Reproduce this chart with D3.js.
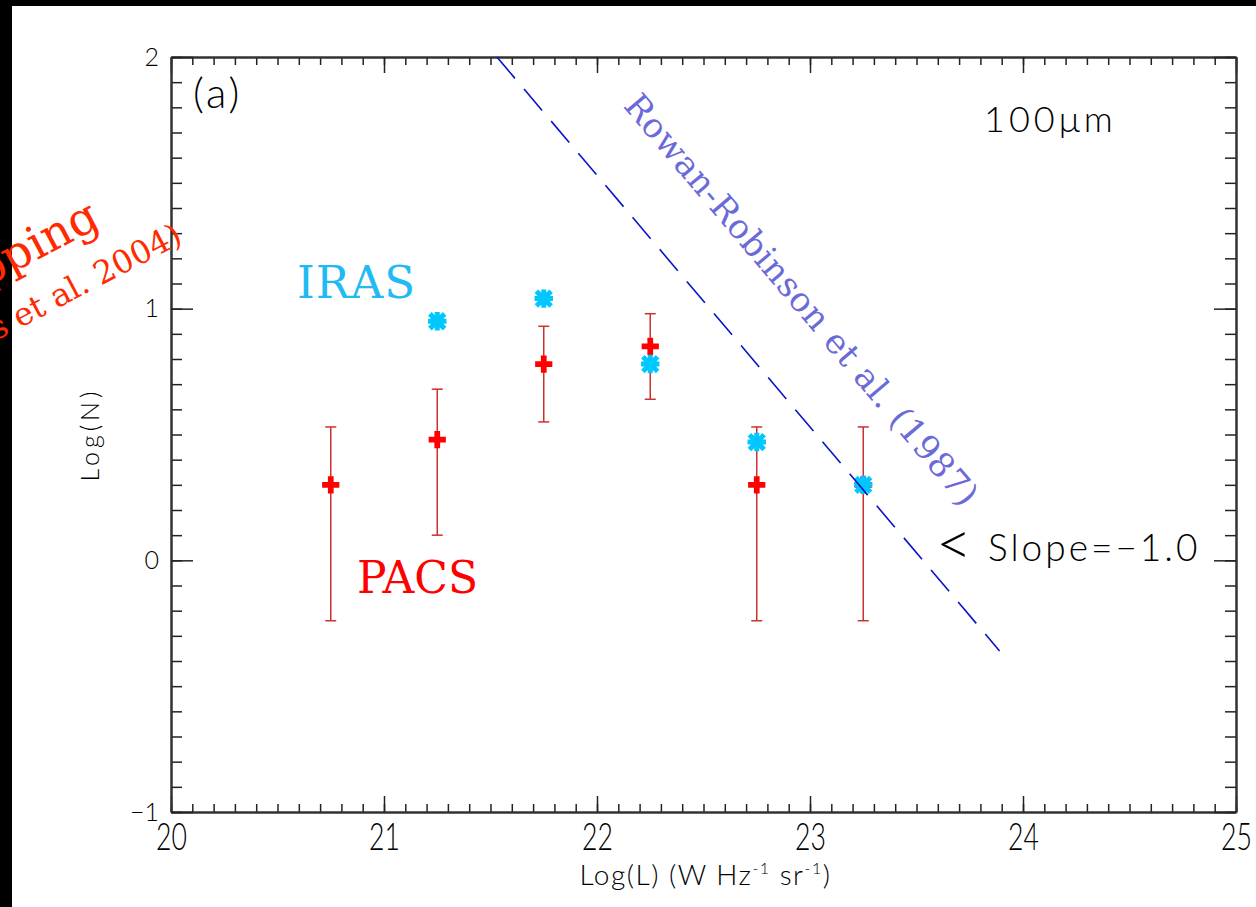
<!DOCTYPE html>
<html>
<head>
<meta charset="utf-8">
<script src="https://cdn.jsdelivr.net/npm/d3@7"></script>
<style>
  html, body { margin: 0; padding: 0; background: #fff; }
  svg { display: block; }
  .thin { font-family: Lato, 'DejaVu Sans', sans-serif; font-weight: 300; fill: #000; }
  .slab { font-family: 'DejaVu Serif', serif; }
</style>
</head>
<body>
<div id="chart"></div>
<script>
// luminosity bins, log(L) in W Hz^-1 sr^-1
const logLBins = [20.75, 21.25, 21.75, 22.25, 22.75, 23.25]
// PACS counts with error bar ends
const pacsLogN = [0.30, 0.48, 0.78, 0.85, 0.30, 0.30]
const pacsHi = [0.53, 0.68, 0.93, 0.98, 0.53, 0.53]
const pacsLo = [-0.24, 0.10, 0.55, 0.64, -0.24, -0.24]
// IRAS counts
const irasLogL = [21.25, 21.75, 22.25, 22.75, 23.25]
const irasLogN = [0.95, 1.04, 0.78, 0.47, 0.30]
// Rowan-Robinson et al. (1987) slope -1 line
const rrLogL = [21.53, 23.89]
const rrLogN = [2.0, -0.36]

const xTicks = [20, 21, 22, 23, 24, 25]
const yTicks = [-1, 0, 1, 2]

const width = 1256
const height = 907
const plot = { left: 171, right: 1236, top: 57, bottom: 812 }

const x = d3.scaleLinear().domain([20, 25]).range([plot.left, plot.right])
const y = d3.scaleLinear().domain([-1, 2]).range([plot.bottom, plot.top])

const svg = d3
  .select('#chart')
  .append('svg')
  .attr('width', width)
  .attr('height', height)

// black strips round the scanned figure
svg.append('rect').attr('x', 0).attr('y', 0).attr('width', width).attr('height', 6).attr('fill', '#000')
svg.append('rect').attr('x', 0).attr('y', 0).attr('width', 12).attr('height', height).attr('fill', '#000')

function styleAxis(g) {
  g.select('.domain').attr('stroke', '#333').attr('stroke-width', 2)
  g.selectAll('.tick line').attr('stroke', '#222').attr('stroke-width', 1.5)
}

// bottom
svg.append('g')
  .attr('transform', `translate(0,${plot.bottom})`)
  .call(d3.axisBottom(x).ticks(50).tickSize(-8).tickSizeOuter(0).tickFormat(''))
  .call(styleAxis)
const xAxis = svg.append('g')
  .attr('transform', `translate(0,${plot.bottom})`)
  .call(d3.axisBottom(x).tickValues(xTicks).tickSize(-16).tickSizeOuter(0).tickPadding(12).tickFormat(d3.format('d')))
  .call(styleAxis)
xAxis.selectAll('text')
  .attr('class', 'thin')
  .attr('font-size', 37)
  .attr('transform', 'scale(0.72,1)')

// top
svg.append('g')
  .attr('transform', `translate(0,${plot.top})`)
  .call(d3.axisTop(x).ticks(50).tickSize(-8).tickSizeOuter(0).tickFormat(''))
  .call(styleAxis)
svg.append('g')
  .attr('transform', `translate(0,${plot.top})`)
  .call(d3.axisTop(x).tickValues(xTicks).tickSize(-16).tickSizeOuter(0).tickFormat(''))
  .call(styleAxis)

// left
svg.append('g')
  .attr('transform', `translate(${plot.left},0)`)
  .call(d3.axisLeft(y).ticks(30).tickSize(-11).tickSizeOuter(0).tickFormat(''))
  .call(styleAxis)
const yAxis = svg.append('g')
  .attr('transform', `translate(${plot.left},0)`)
  .call(d3.axisLeft(y).tickValues(yTicks).tickSize(-22).tickSizeOuter(0).tickPadding(12).tickFormat(d3.format('d')))
  .call(styleAxis)
yAxis.selectAll('text').attr('class', 'thin').attr('font-size', 25)

// right
svg.append('g')
  .attr('transform', `translate(${plot.right},0)`)
  .call(d3.axisRight(y).ticks(30).tickSize(-11).tickSizeOuter(0).tickFormat(''))
  .call(styleAxis)
svg.append('g')
  .attr('transform', `translate(${plot.right},0)`)
  .call(d3.axisRight(y).tickValues(yTicks).tickSize(-22).tickSizeOuter(0).tickFormat(''))
  .call(styleAxis)

// axis titles
const xTitle = svg.append('text')
  .attr('class', 'thin')
  .attr('x', (plot.left + plot.right) / 2 + 2)
  .attr('y', 885)
  .attr('text-anchor', 'middle')
  .attr('font-size', 28)
  .attr('letter-spacing', 1.5)
xTitle.append('tspan').text('Log(L) (W Hz')
xTitle.append('tspan').attr('font-size', 16).attr('dy', -11).text('-1')
xTitle.append('tspan').attr('dy', 11).text(' sr')
xTitle.append('tspan').attr('font-size', 16).attr('dy', -11).text('-1')
xTitle.append('tspan').attr('dy', 11).text(')')

svg.append('text')
  .attr('class', 'thin')
  .attr('transform', `translate(99,${(plot.top + plot.bottom) / 2}) rotate(-90)`)
  .attr('text-anchor', 'middle')
  .attr('font-size', 25)
  .attr('letter-spacing', 4)
  .text('Log(N)')

// PACS error bars
const pacs = logLBins.map((d, i) => ({ logL: d, logN: pacsLogN[i], hi: pacsHi[i], lo: pacsLo[i] }))
const errColor = '#cc3030'
svg.append('g')
  .selectAll('line')
  .data(pacs)
  .join('line')
  .attr('x1', (d) => x(d.logL))
  .attr('x2', (d) => x(d.logL))
  .attr('y1', (d) => y(d.lo))
  .attr('y2', (d) => y(d.hi))
  .attr('stroke', errColor)
  .attr('stroke-width', 1.5)
const caps = svg.append('g')
caps.selectAll('.cap-hi')
  .data(pacs)
  .join('line')
  .attr('x1', (d) => x(d.logL) - 5.5)
  .attr('x2', (d) => x(d.logL) + 5.5)
  .attr('y1', (d) => y(d.hi))
  .attr('y2', (d) => y(d.hi))
  .attr('stroke', errColor)
  .attr('stroke-width', 1.5)
caps.selectAll('.cap-lo')
  .data(pacs)
  .join('line')
  .attr('x1', (d) => x(d.logL) - 5.5)
  .attr('x2', (d) => x(d.logL) + 5.5)
  .attr('y1', (d) => y(d.lo))
  .attr('y2', (d) => y(d.lo))
  .attr('stroke', errColor)
  .attr('stroke-width', 1.5)

// PACS plus markers
svg.append('g')
  .selectAll('path')
  .data(pacs)
  .join('path')
  .attr('transform', (d) => `translate(${x(d.logL)},${y(d.logN)})`)
  .attr('d', d3.symbol(d3.symbolCross, 165))
  .attr('fill', '#ff0000')

// IRAS asterisks (IDL style: plus and cross together)
const symbolStar = {
  draw(ctx, size) {
    const r = Math.sqrt(size) / 2
    const k = r * 0.8
    ctx.moveTo(-r, 0); ctx.lineTo(r, 0)
    ctx.moveTo(0, -r); ctx.lineTo(0, r)
    ctx.moveTo(-k, -k); ctx.lineTo(k, k)
    ctx.moveTo(-k, k); ctx.lineTo(k, -k)
  }
}
const iras = irasLogL.map((d, i) => ({ logL: d, logN: irasLogN[i] }))
svg.append('g')
  .selectAll('path')
  .data(iras)
  .join('path')
  .attr('transform', (d) => `translate(${x(d.logL)},${y(d.logN)})`)
  .attr('d', d3.symbol(symbolStar, 340))
  .attr('fill', 'none')
  .attr('stroke', '#00c8ff')
  .attr('stroke-width', 5)

// Rowan-Robinson line
const rr = rrLogL.map((d, i) => [d, rrLogN[i]])
svg.append('path')
  .datum(rr)
  .attr('d', d3.line().x((d) => x(d[0])).y((d) => y(d[1])))
  .attr('fill', 'none')
  .attr('stroke', '#0a14c8')
  .attr('stroke-width', 1.6)
  .attr('stroke-dasharray', '28,14')

// text along the line
const ang = Math.atan2(y(rrLogN[1]) - y(rrLogN[0]), x(rrLogL[1]) - x(rrLogL[0]))
const slope = (rrLogN[1] - rrLogN[0]) / (rrLogL[1] - rrLogL[0])
const tL = 21.89
const px = x(tL) + Math.sin(ang) * 64
const py = y(rrLogN[0] + (tL - rrLogL[0]) * slope) - Math.cos(ang) * 64
svg.append('text')
  .attr('class', 'slab')
  .attr('transform', `translate(${px},${py}) rotate(${(ang * 180) / Math.PI})`)
  .attr('font-size', 34)
  .attr('letter-spacing', 0.6)
  .attr('fill', '#6a6ad8')
  .text('Rowan-Robinson et al. (1987)')

// labels
svg.append('text')
  .attr('class', 'slab')
  .attr('x', 297)
  .attr('y', 298)
  .attr('font-size', 45)
  .attr('letter-spacing', 1)
  .attr('fill', '#22baf2')
  .text('IRAS')
svg.append('text')
  .attr('class', 'slab')
  .attr('x', 357)
  .attr('y', 593)
  .attr('font-size', 44)
  .attr('fill', '#ff0000')
  .text('PACS')

svg.append('text')
  .attr('class', 'thin')
  .attr('x', plot.left + 22)
  .attr('y', 108)
  .attr('font-size', 42)
  .attr('letter-spacing', 3)
  .text('(a)')
svg.append('text')
  .attr('class', 'thin')
  .attr('x', 984)
  .attr('y', 132)
  .attr('font-size', 36)
  .attr('letter-spacing', 4)
  .text('100μm')
const slopeLabel = svg.append('text')
  .attr('class', 'thin')
  .attr('x', 936)
  .attr('y', 561)
  .attr('font-size', 37)
  .attr('letter-spacing', 3)
  .style('white-space', 'pre')
slopeLabel.append('tspan').attr('font-size', 62).attr('dy', 4).text('<')
slopeLabel.append('tspan').attr('dy', -4).text(' Slope=−1.0')

// rotated red caption cut by the left edge
svg.append('text')
  .attr('class', 'slab')
  .attr('transform', 'translate(102,226) rotate(-27.7)')
  .attr('text-anchor', 'end')
  .attr('font-size', 46)
  .attr('fill', '#ff2a00')
  .text('pping')
svg.append('text')
  .attr('class', 'slab')
  .attr('transform', 'translate(184,242) rotate(-27.7)')
  .attr('text-anchor', 'end')
  .attr('font-size', 32)
  .attr('fill', '#ff2a00')
  .text('s et al. 2004)')
</script>
</body>
</html>
